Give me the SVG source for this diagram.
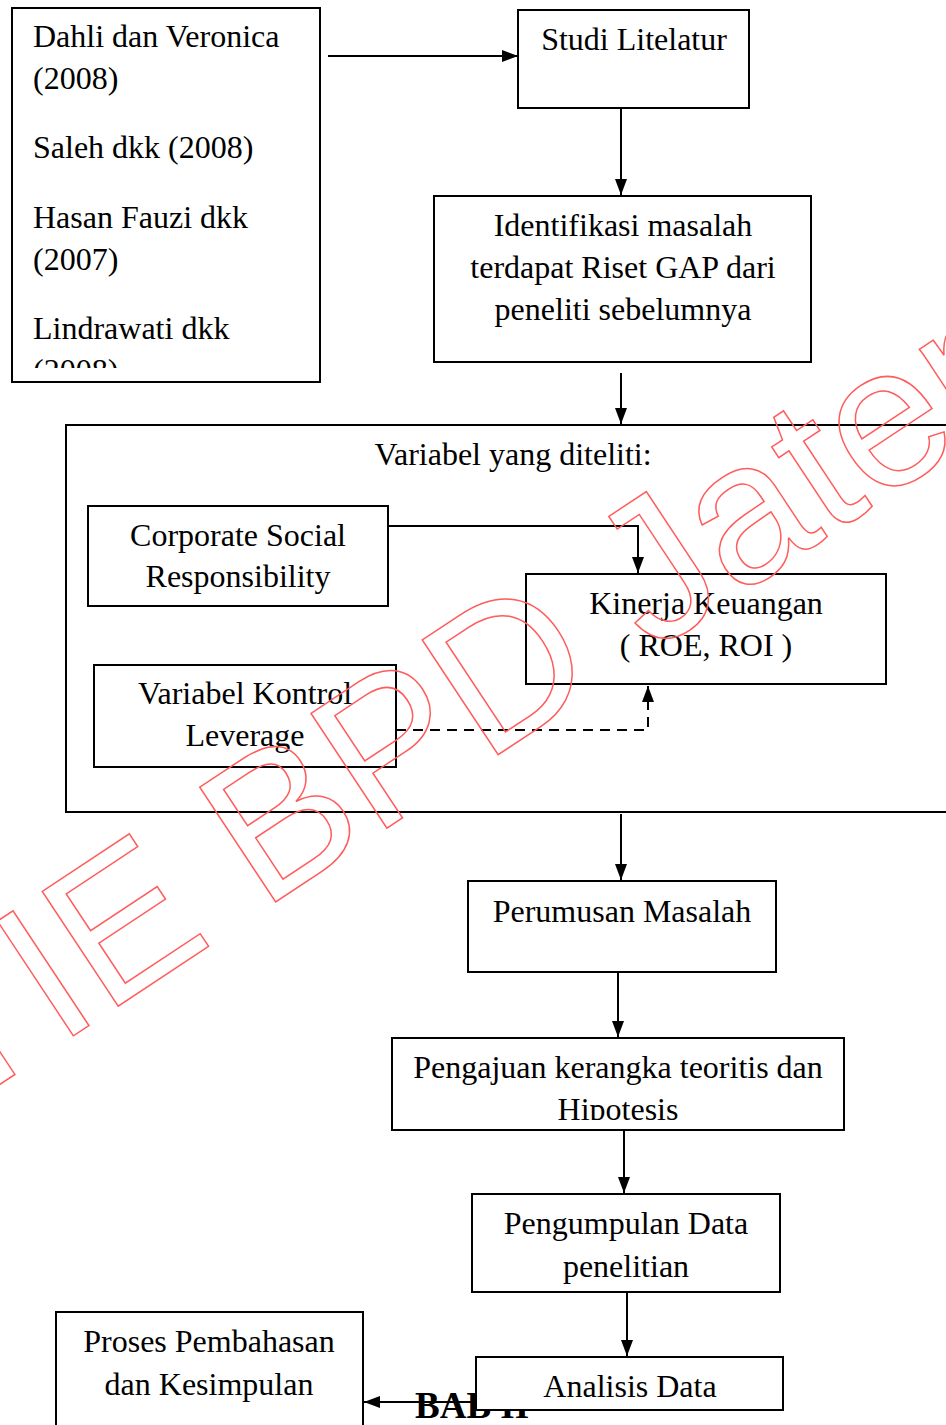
<svg xmlns="http://www.w3.org/2000/svg" width="946" height="1425" viewBox="0 0 946 1425">
<style>
.box{fill:#fff;stroke:#000;stroke-width:2}
.t{font-family:"Liberation Serif","Times New Roman",serif;font-size:32px;fill:#000}
.c{text-anchor:middle}
.ln{fill:none;stroke:#000;stroke-width:2}
.dash{stroke-dasharray:10,7}
.wm{font-family:"Liberation Sans",Arial,sans-serif;font-size:200px;fill:none;stroke:#ff5c5c;stroke-width:1.5}
</style>
<defs>
<marker id="ah" markerWidth="16" markerHeight="12" refX="16" refY="6" orient="auto" markerUnits="userSpaceOnUse" viewBox="0 0 16 12">
<path d="M0,0 L16,6 L0,12 Z" fill="#000"/>
</marker>
<clipPath id="clipL"><rect x="12" y="8" width="308" height="360"/></clipPath>
<clipPath id="clipP"><rect x="392" y="1038" width="452" height="82"/></clipPath>
</defs>

<g id="n-sources">
<rect class="box" x="12" y="8" width="308" height="374"/>
<g clip-path="url(#clipL)">
<text class="t" x="33" y="47">Dahli dan Veronica</text>
<text class="t" x="33" y="89">(2008)</text>
<text class="t" x="33" y="158">Saleh dkk (2008)</text>
<text class="t" x="33" y="228">Hasan Fauzi dkk</text>
<text class="t" x="33" y="270">(2007)</text>
<text class="t" x="33" y="339">Lindrawati dkk</text>
<text class="t" x="33" y="381">(2008)</text>
</g>
</g>

<g id="n-studi">
<rect class="box" x="518" y="10" width="231" height="98"/>
<text class="t c" x="634" y="50">Studi Litelatur</text>
</g>

<g id="n-identifikasi">
<rect class="box" x="434" y="196" width="377" height="166"/>
<text class="t c" x="623" y="236">Identifikasi masalah</text>
<text class="t c" x="623" y="278">terdapat Riset GAP dari</text>
<text class="t c" x="623" y="320">peneliti sebelumnya</text>
</g>

<g id="n-variabel">
<rect class="box" x="66" y="425" width="890" height="387"/>
<text class="t c" x="513" y="465">Variabel yang diteliti:</text>
</g>

<g id="n-csr">
<rect class="box" x="88" y="506" width="300" height="100"/>
<text class="t c" x="238" y="546">Corporate Social</text>
<text class="t c" x="238" y="587">Responsibility</text>
</g>

<g id="n-kinerja">
<rect class="box" x="526" y="574" width="360" height="110"/>
<text class="t c" x="706" y="614">Kinerja Keuangan</text>
<text class="t c" x="706" y="656">( ROE, ROI )</text>
</g>

<g id="n-kontrol">
<rect class="box" x="94" y="665" width="302" height="102"/>
<text class="t c" x="245" y="704">Variabel Kontrol</text>
<text class="t c" x="245" y="746">Leverage</text>
</g>

<g id="n-perumusan">
<rect class="box" x="468" y="881" width="308" height="91"/>
<text class="t c" x="622" y="922">Perumusan Masalah</text>
</g>

<g id="n-pengajuan">
<rect class="box" x="392" y="1038" width="452" height="92"/>
<g clip-path="url(#clipP)">
<text class="t c" x="618" y="1078">Pengajuan kerangka teoritis dan</text>
<text class="t c" x="618" y="1120">Hipotesis</text>
</g>
</g>

<g id="n-pengumpulan">
<rect class="box" x="472" y="1194" width="308" height="98"/>
<text class="t c" x="626" y="1234">Pengumpulan Data</text>
<text class="t c" x="626" y="1277">penelitian</text>
</g>

<g id="n-proses">
<rect class="box" x="56" y="1312" width="307" height="130"/>
<text class="t c" x="209" y="1352">Proses Pembahasan</text>
<text class="t c" x="209" y="1395">dan Kesimpulan</text>
</g>

<g id="n-bab">
<text x="415" y="1418" style="font-family:'Liberation Serif','Times New Roman',serif;font-size:37px;font-weight:bold;fill:#000">BAB II</text>
</g>

<g id="n-analisis">
<rect class="box" x="476" y="1357" width="307" height="53"/>
<text class="t c" x="630" y="1397">Analisis Data</text>
</g>

<g id="connectors">
<line class="ln" x1="328" y1="56" x2="518" y2="56" marker-end="url(#ah)"/>
<line class="ln" x1="621" y1="108" x2="621" y2="195" marker-end="url(#ah)"/>
<line class="ln" x1="621" y1="373" x2="621" y2="424" marker-end="url(#ah)"/>
<polyline class="ln" points="388,526 638,526 638,573" marker-end="url(#ah)"/>
<polyline class="ln dash" points="396,730 648,730 648,686" marker-end="url(#ah)"/>
<line class="ln" x1="621" y1="814" x2="621" y2="880" marker-end="url(#ah)"/>
<line class="ln" x1="618" y1="972" x2="618" y2="1037" marker-end="url(#ah)"/>
<line class="ln" x1="624" y1="1130" x2="624" y2="1193" marker-end="url(#ah)"/>
<line class="ln" x1="627" y1="1292" x2="627" y2="1356" marker-end="url(#ah)"/>
<line class="ln" x1="476" y1="1402" x2="364" y2="1402" marker-end="url(#ah)"/>
</g>

<text class="wm" x="-155" y="1187" transform="rotate(-33.5 -155 1187)">STIE BPD Jateng</text>
</svg>
